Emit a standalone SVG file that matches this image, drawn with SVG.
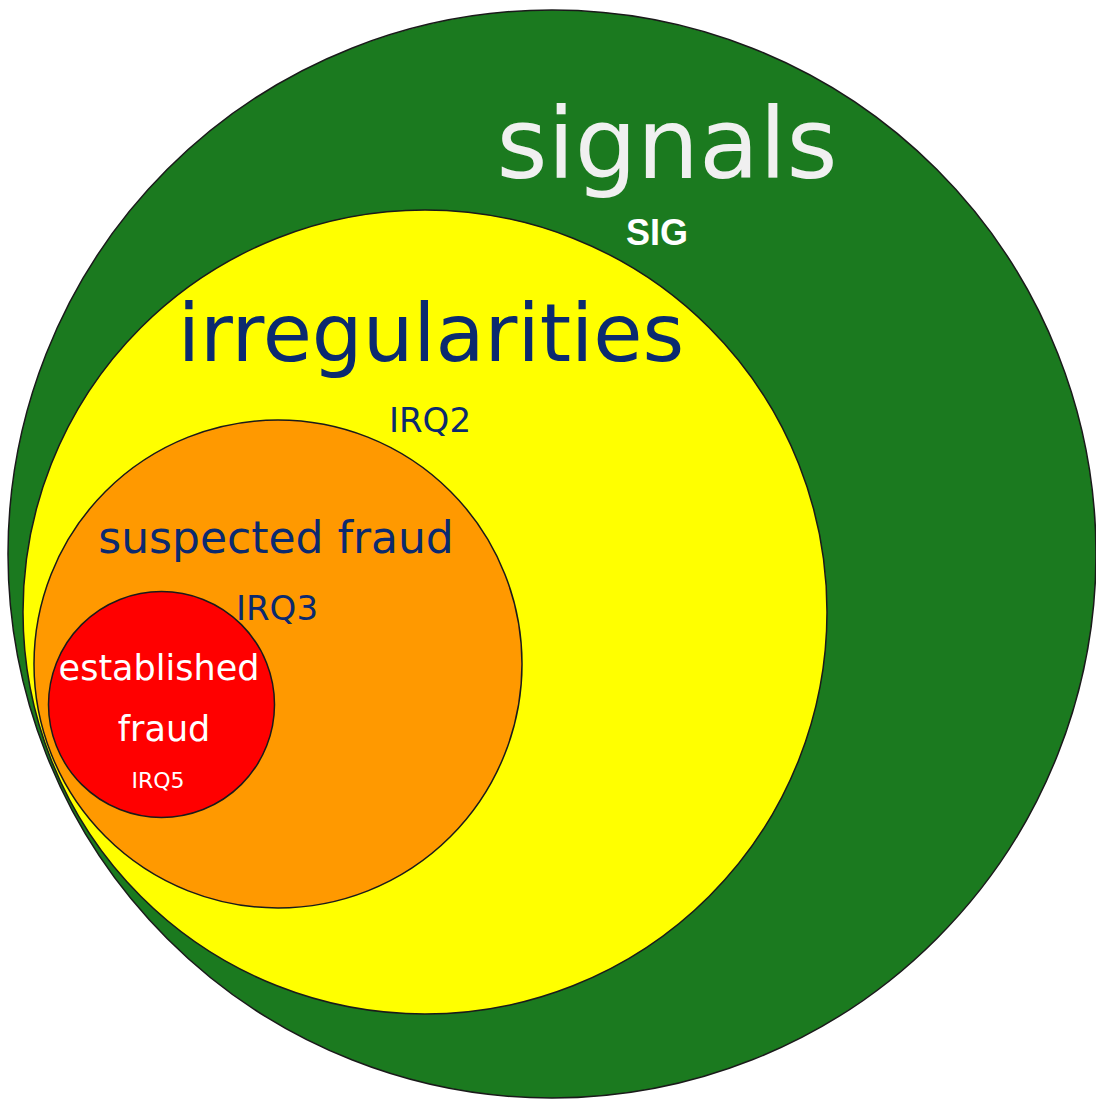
<svg xmlns="http://www.w3.org/2000/svg" width="1096" height="1099" viewBox="0 0 1096 1099">
  <style>
    .ring { stroke: #1a1a1a; stroke-width: 1.5; }
    .v { font-family: "DejaVu Sans", Verdana, sans-serif; text-anchor: middle; }
    .navy { fill: #0b2a6f; }
    .white { fill: #ffffff; }
  </style>
  <rect width="1096" height="1099" fill="#ffffff"/>
  <g id="signals">
    <circle class="ring" cx="552" cy="554" r="544" fill="#1b7a1f"/>
    <text class="v" x="667" y="178" font-size="98" fill="#f0f0f0">signals</text>
    <text x="657" y="245" font-family="'Liberation Sans', Arial, sans-serif" font-weight="bold" font-size="36" fill="#ffffff" text-anchor="middle">SIG</text>
  </g>
  <g id="irregularities">
    <circle class="ring" cx="425" cy="612" r="402" fill="#ffff00"/>
    <text class="v navy" x="431" y="361" font-size="80">irregularities</text>
    <text class="v navy" x="430" y="432" font-size="34">IRQ2</text>
  </g>
  <g id="suspected-fraud">
    <circle class="ring" cx="278" cy="664" r="244" fill="#ff9900"/>
    <text class="v navy" x="276" y="553" font-size="44">suspected fraud</text>
    <text class="v navy" x="277" y="620" font-size="34">IRQ3</text>
  </g>
  <g id="established-fraud">
    <circle class="ring" cx="161.5" cy="704.5" r="113" fill="#ff0000"/>
    <text class="v white" x="159" y="680" font-size="35">established</text>
    <text class="v white" x="164" y="741" font-size="35">fraud</text>
    <text class="v white" x="158" y="788" font-size="22">IRQ5</text>
  </g>
  <g id="connectors"/>
</svg>
